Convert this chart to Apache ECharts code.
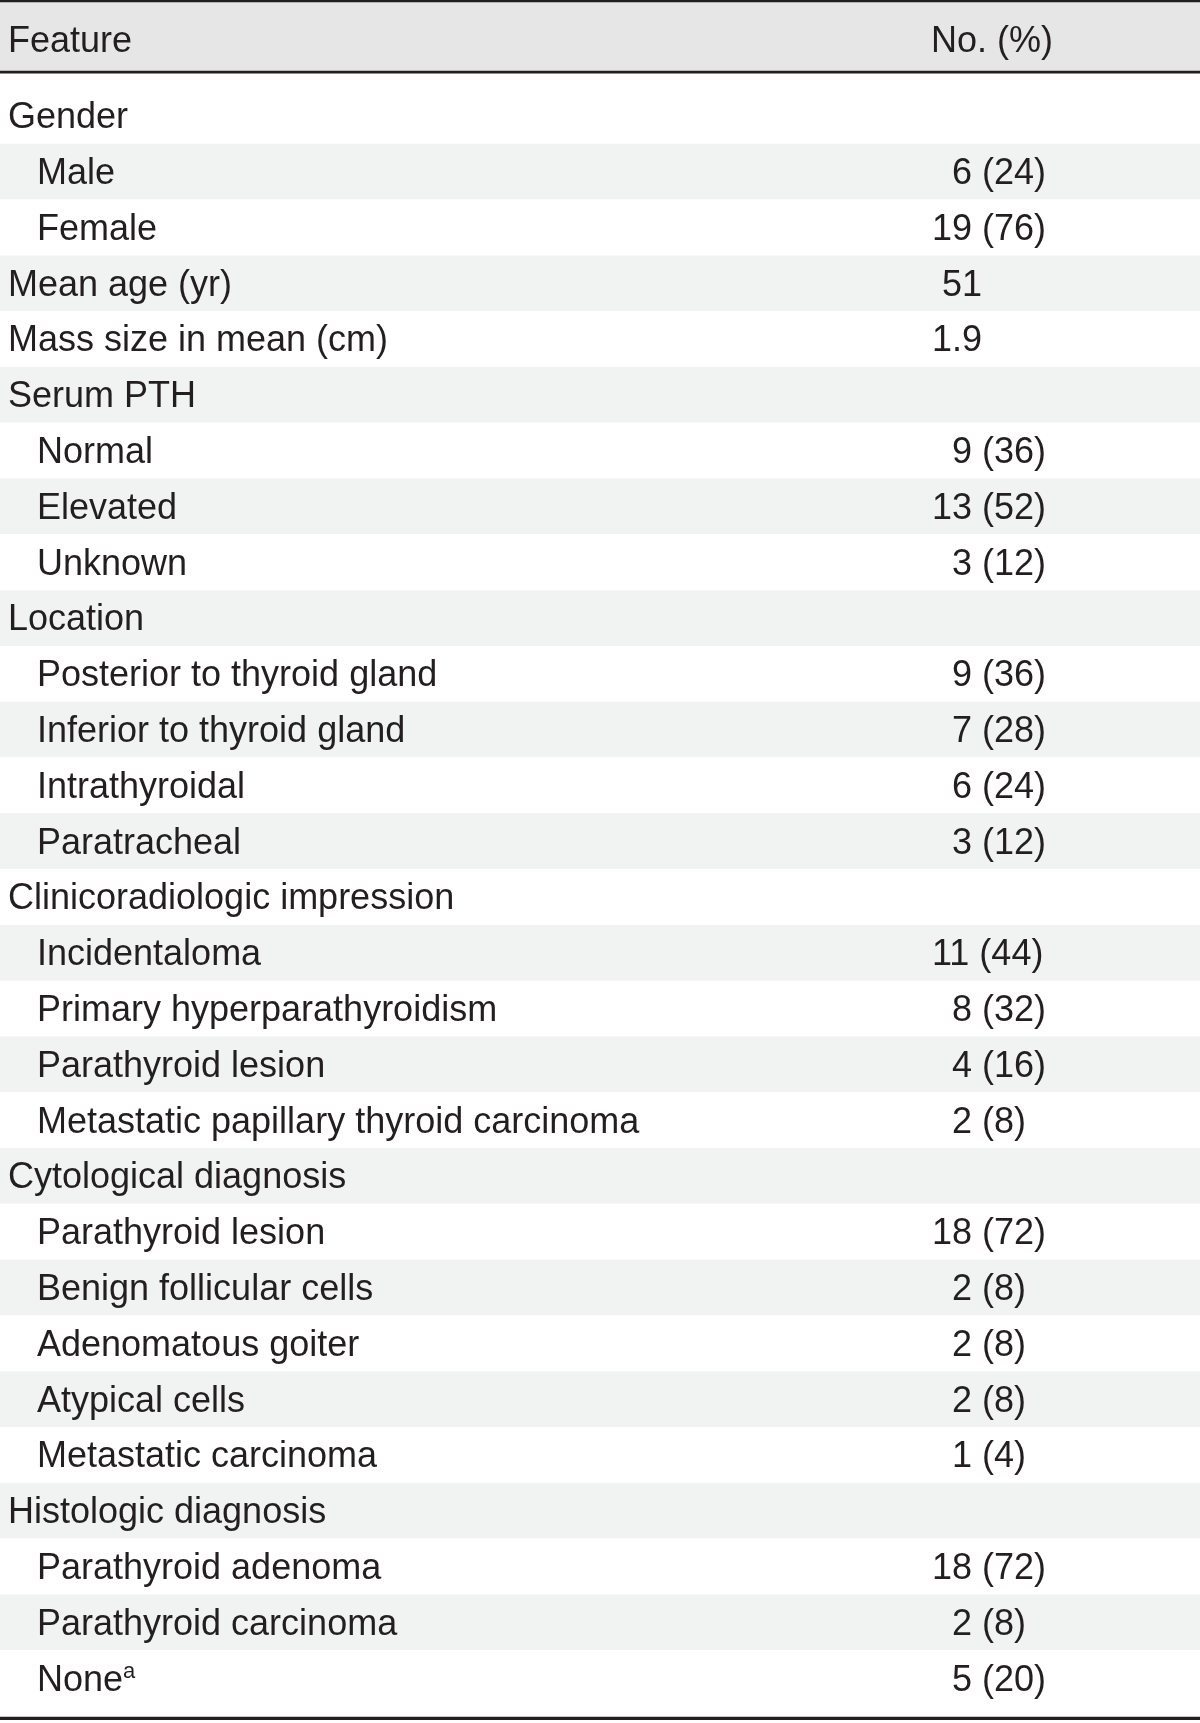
<!DOCTYPE html>
<html>
<head>
<meta charset="utf-8">
<script src="https://cdn.jsdelivr.net/npm/echarts@6/dist/echarts.min.js"></script>
<style>
html,body{margin:0;padding:0;background:#fff;}
#main{width:1200px;height:1723px;}
</style>
</head>
<body>
<div id="main"></div>
<script>
// Table content
var headers = ['Feature', 'No. (%)'];
var features = [
  'Gender', 'Male', 'Female', 'Mean age (yr)', 'Mass size in mean (cm)',
  'Serum PTH', 'Normal', 'Elevated', 'Unknown',
  'Location', 'Posterior to thyroid gland', 'Inferior to thyroid gland', 'Intrathyroidal', 'Paratracheal',
  'Clinicoradiologic impression', 'Incidentaloma', 'Primary hyperparathyroidism', 'Parathyroid lesion', 'Metastatic papillary thyroid carcinoma',
  'Cytological diagnosis', 'Parathyroid lesion', 'Benign follicular cells', 'Adenomatous goiter', 'Atypical cells', 'Metastatic carcinoma',
  'Histologic diagnosis', 'Parathyroid adenoma', 'Parathyroid carcinoma', 'None'
];
// 0 = group heading, 1 = indented sub-item
var levels = [
  0, 1, 1, 0, 0,
  0, 1, 1, 1,
  0, 1, 1, 1, 1,
  0, 1, 1, 1, 1,
  0, 1, 1, 1, 1, 1,
  0, 1, 1, 1
];
// footnote marks
var notes = ['', '', '', '', '', '', '', '', '', '', '', '', '', '', '', '', '', '', '', '', '', '', '', '', '', '', '', '', 'a'];
var counts = [
  '', '6', '19', ' 51', '1.9',
  '', '9', '13', '3',
  '', '9', '7', '6', '3',
  '', '11', '8', '4', '2',
  '', '18', '2', '2', '2', '1',
  '', '18', '2', '5'
];
var percents = [
  '', '24', '76', '', '',
  '', '36', '52', '12',
  '', '36', '28', '24', '12',
  '', '44', '32', '16', '8',
  '', '72', '8', '8', '8', '4',
  '', '72', '8', '20'
];

var FONT = '"Liberation Sans", Arial, Helvetica, sans-serif';
var INK = '#231f20';
var FIG = '\u2007'; // figure space (digit width) for right-aligning counts

var chart = echarts.init(document.getElementById('main'), null, {renderer: 'canvas'});

var option = {
  backgroundColor: '#ffffff',
  animation: false,
  textStyle: {fontFamily: FONT, color: INK},
  title: [
    {text: headers[0], left: 3, top: 17,
     textStyle: {fontFamily: FONT, fontSize: 36, fontWeight: 'normal', color: INK, lineHeight: 40}},
    {text: headers[1], left: 926, top: 17,
     textStyle: {fontFamily: FONT, fontSize: 36, fontWeight: 'normal', color: INK, lineHeight: 40}}
  ],
  graphic: [
    {type: 'rect', z: -1, shape: {x: 0, y: 1, width: 1200, height: 71}, style: {fill: '#e6e6e6'}},
    {type: 'rect', z: 10, shape: {x: 0, y: 0, width: 1200, height: 2.2}, style: {fill: INK}},
    {type: 'rect', z: 10, shape: {x: 0, y: 70.8, width: 1200, height: 2.6}, style: {fill: INK}},
    {type: 'rect', z: 10, shape: {x: 0, y: 1716.8, width: 1200, height: 3.2}, style: {fill: INK}}
  ],
  grid: {left: 0, right: 0, top: 88, bottom: 17, containLabel: false},
  xAxis: {type: 'value', min: 0, max: 1, show: false},
  yAxis: [
    {
      type: 'category',
      data: features,
      inverse: true,
      position: 'left',
      axisLine: {show: false},
      axisTick: {show: false},
      splitLine: {show: false},
      splitArea: {show: true, areaStyle: {color: ['#ffffff', '#f1f2f2']}},
      axisLabel: {
        inside: true,
        margin: 8,
        align: 'left',
        interval: 0,
        padding: [5, 0, 0, 0],
        formatter: function (v, i) {
          var key = levels[i] ? 's' : 't';
          var s = '{' + key + '|' + v + '}';
          if (notes[i]) s += '{sup|' + notes[i] + '}';
          return s;
        },
        rich: {
          t: {fontFamily: FONT, fontSize: 36, color: INK, lineHeight: 40},
          s: {fontFamily: FONT, fontSize: 36, color: INK, lineHeight: 40, padding: [0, 0, 0, 29]},
          sup: {fontFamily: FONT, fontSize: 22, color: INK, lineHeight: 40, verticalAlign: 'top', padding: [0, 0, 16, 0]}
        }
      }
    },
    {
      type: 'category',
      data: features,
      inverse: true,
      position: 'right',
      axisLine: {show: false},
      axisTick: {show: false},
      splitLine: {show: false},
      axisLabel: {
        inside: true,
        margin: 268,
        align: 'left',
        interval: 0,
        padding: [5, 0, 0, 0],
        formatter: function (v, i) {
          if (!counts[i]) return '';
          if (!percents[i]) return '{m|' + counts[i] + '}';
          var n = counts[i].length < 2 ? FIG + counts[i] : counts[i];
          return '{n|' + n + ' (' + percents[i] + ')}';
        },
        rich: {
          m: {fontFamily: FONT, fontSize: 36, color: INK, lineHeight: 40},
          n: {fontFamily: FONT, fontSize: 36, color: INK, lineHeight: 40}
        }
      }
    }
  ],
  series: []
};
chart.setOption(option);
</script>
</body>
</html>
